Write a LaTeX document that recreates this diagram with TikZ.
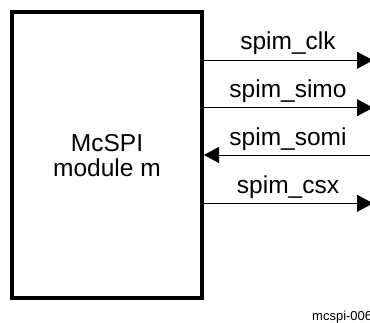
\documentclass[tikz,border=0pt]{standalone}
\usepackage{fontspec}
\setmainfont{Liberation Sans}
\usetikzlibrary{arrows.meta}
\begin{document}
\begin{tikzpicture}[x=1pt,y=-1pt,
  sig/.style={line width=0.9pt,-{Triangle[length=16pt,width=17pt]}},
  siglabel/.style={anchor=base,inner sep=0pt,font=\fontsize{24.5}{28}\selectfont},
  modbox/.style={draw,line width=4pt,minimum width=190pt,minimum height=286pt,inner sep=0pt}]
\useasboundingbox (0,0) rectangle (370,323);
\node[modbox] (m) at (107,155) {};
\node[siglabel] (t1) at (107,151.7) {McSPI};
\node[siglabel] (t2) at (107,176.7) {module m};
\coordinate (e1) at (373,60.3);
\coordinate (e2) at (373,107.7);
\coordinate (e3) at (370,155);
\coordinate (e4) at (373,203.3);
\draw[sig] (m.east |- e1) -- (e1);
\draw[sig] (m.east |- e2) -- (e2);
\draw[sig,{Triangle[length=15pt,width=16pt]}-] (m.east |- e3) -- (e3);
\draw[sig] (m.east |- e4) -- (e4);
\node[siglabel] (l1) at (288,50) {spim\_clk};
\node[siglabel] (l2) at (288,97.7) {spim\_simo};
\node[siglabel] (l3) at (288,145.5) {spim\_somi};
\node[siglabel] (l4) at (288,193.5) {spim\_csx};
\node[anchor=base west,inner sep=0pt,font=\fontsize{13}{15}\selectfont] (id) at (312,320.5) {mcspi-006};
\end{tikzpicture}
\end{document}
